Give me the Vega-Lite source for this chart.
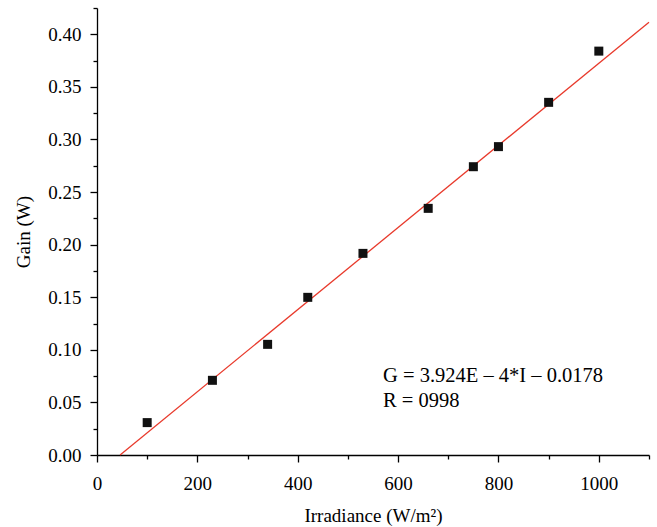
{
  "$schema": "https://vega.github.io/schema/vega-lite/v6.json",
  "width": 552,
  "height": 447,
  "autosize": {"type": "none"},
  "padding": {"left": 97, "top": 8, "right": 8, "bottom": 72},
  "background": "white",
  "config": {
    "view": {"stroke": null},
    "font": "Liberation Serif",
    "axis": {
      "labelFont": "Liberation Serif",
      "titleFont": "Liberation Serif",
      "labelFontSize": 19,
      "titleFontSize": 19,
      "titleFontWeight": "normal",
      "labelColor": "#000",
      "titleColor": "#000",
      "domainColor": "#000",
      "tickColor": "#000",
      "domainWidth": 1.3,
      "tickWidth": 1.3,
      "grid": false,
      "labelOverlap": false,
      "labelFlush": false
    }
  },
  "datasets": {
    "points": [
      {"irradiance": 100, "gain": 0.0308},
      {"irradiance": 230, "gain": 0.0710},
      {"irradiance": 340, "gain": 0.1052},
      {"irradiance": 420, "gain": 0.1499},
      {"irradiance": 530, "gain": 0.1917},
      {"irradiance": 660, "gain": 0.2345},
      {"irradiance": 750, "gain": 0.2741},
      {"irradiance": 800, "gain": 0.2932},
      {"irradiance": 900, "gain": 0.3353},
      {"irradiance": 1000, "gain": 0.3840}
    ],
    "fit": [
      {"irradiance": 46, "gain": 0.0},
      {"irradiance": 1100, "gain": 0.4115}
    ],
    "notes": [
      {"irradiance": 570, "gain": 0.0694, "text": "G = 3.924E – 4*I – 0.0178"},
      {"irradiance": 570, "gain": 0.0453, "text": "R = 0998"}
    ]
  },
  "encoding": {
    "x": {
      "field": "irradiance",
      "type": "quantitative",
      "scale": {"domain": [0, 1100], "nice": false, "zero": false},
      "axis": {
        "title": "Irradiance (W/m²)",
        "values": [0, 100, 200, 300, 400, 500, 600, 700, 800, 900, 1000, 1100],
        "labelExpr": "datum.value % 200 === 0 ? format(datum.value, 'd') : ''",
        "tickSize": {"condition": {"test": "datum.value % 200 === 0", "value": 7}, "value": 4},
        "labelPadding": 12,
        "titlePadding": 13
      }
    },
    "y": {
      "field": "gain",
      "type": "quantitative",
      "scale": {"domain": [0, 0.425], "nice": false, "zero": false},
      "axis": {
        "title": "Gain (W)",
        "values": [0, 0.025, 0.05, 0.075, 0.1, 0.125, 0.15, 0.175, 0.2, 0.225, 0.25, 0.275, 0.3, 0.325, 0.35, 0.375, 0.4, 0.425],
        "labelExpr": "round(datum.value * 40) % 2 === 0 ? format(datum.value, '.2f') : ''",
        "tickSize": {"condition": {"test": "round(datum.value * 40) % 2 === 0", "value": 7}, "value": 4},
        "labelPadding": 9,
        "titlePadding": 14
      }
    }
  },
  "layer": [
    {
      "data": {"name": "fit"},
      "mark": {"type": "line", "color": "#e8392b", "strokeWidth": 1.3}
    },
    {
      "data": {"name": "points"},
      "mark": {"type": "point", "shape": "square", "filled": true, "size": 81, "color": "#111111", "opacity": 1}
    },
    {
      "data": {"name": "notes"},
      "mark": {"type": "text", "align": "left", "baseline": "alphabetic", "fontSize": 20.5, "font": "Liberation Serif", "color": "#000"},
      "encoding": {"text": {"field": "text", "type": "nominal"}}
    }
  ]
}
